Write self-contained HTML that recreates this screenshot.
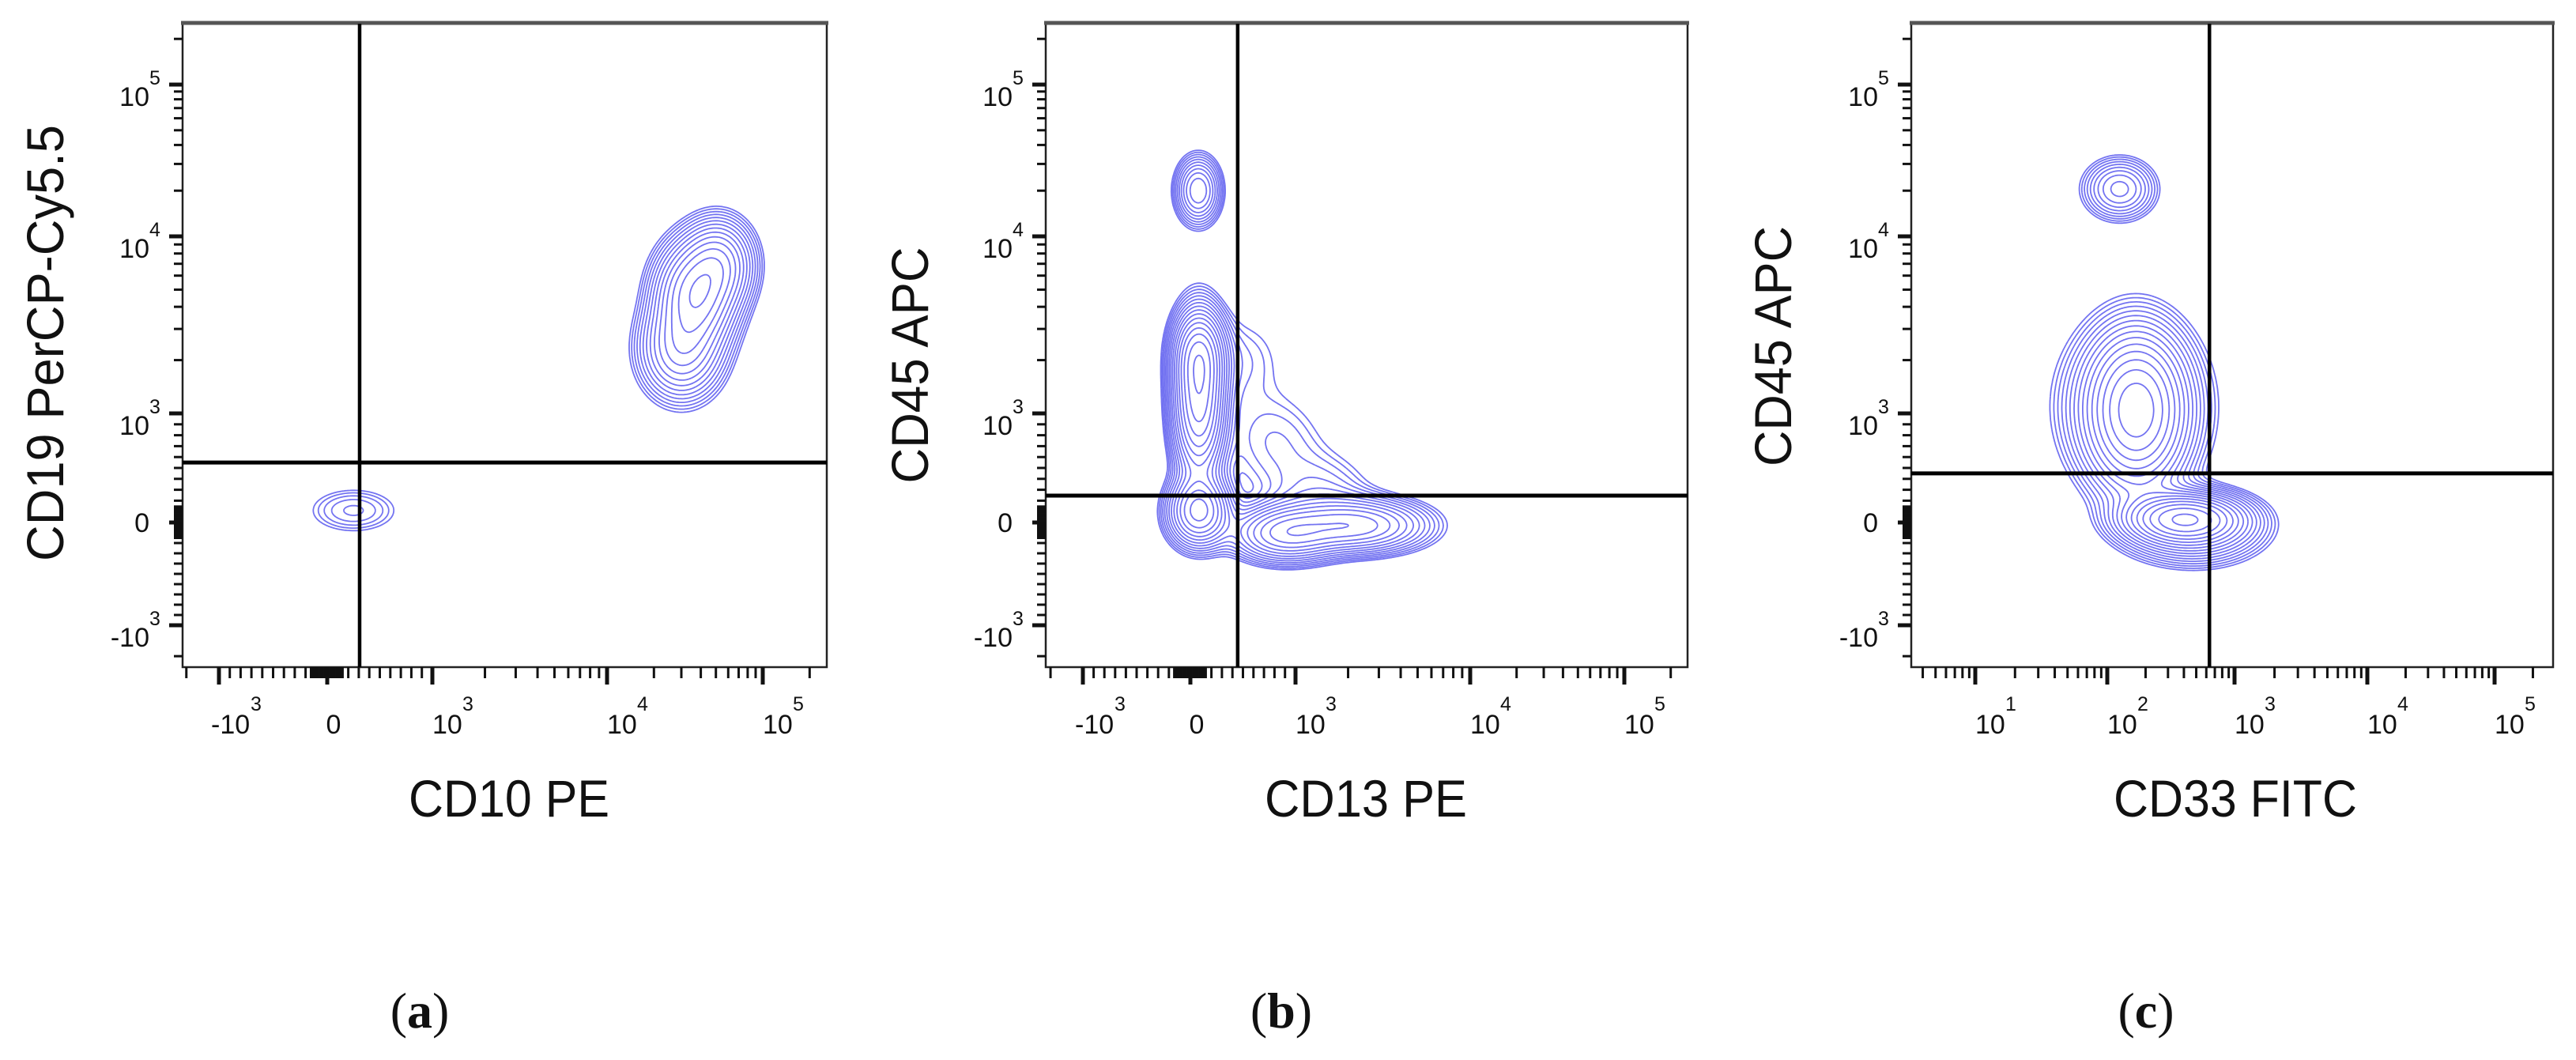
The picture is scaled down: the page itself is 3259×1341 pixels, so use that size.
<!DOCTYPE html>
<html><head><meta charset="utf-8"><style>
html,body{margin:0;padding:0;background:#fff}
svg{display:block}
text{font-family:"Liberation Sans",Arial,sans-serif;fill:#111}
</style></head><body>
<svg id="fig" xmlns="http://www.w3.org/2000/svg" width="3259" height="1341" viewBox="0 0 3259 1341">
<rect width="3259" height="1341" fill="#fff"/>
<g id="root"></g>
<text x="644" y="1033" font-size="66" text-anchor="middle" textLength="254" lengthAdjust="spacingAndGlyphs">CD10 PE</text>
<text x="1728" y="1033" font-size="66" text-anchor="middle" textLength="256" lengthAdjust="spacingAndGlyphs">CD13 PE</text>
<text x="2828" y="1033" font-size="66" text-anchor="middle" textLength="308" lengthAdjust="spacingAndGlyphs">CD33 FITC</text>
<text transform="translate(80,434) rotate(-90)" font-size="66" text-anchor="middle" textLength="552" lengthAdjust="spacingAndGlyphs">CD19 PerCP-Cy5.5</text>
<text transform="translate(1174,462) rotate(-90)" font-size="66" text-anchor="middle" textLength="299" lengthAdjust="spacingAndGlyphs">CD45 APC</text>
<text transform="translate(2266,438) rotate(-90)" font-size="66" text-anchor="middle" textLength="304" lengthAdjust="spacingAndGlyphs">CD45 APC</text>
<text x="531" y="1300" font-size="64" text-anchor="middle" style="font-family:'Liberation Serif',serif">(<tspan font-weight="bold">a</tspan>)</text>
<text x="1621" y="1300" font-size="64" text-anchor="middle" style="font-family:'Liberation Serif',serif">(<tspan font-weight="bold">b</tspan>)</text>
<text x="2715" y="1300" font-size="64" text-anchor="middle" style="font-family:'Liberation Serif',serif">(<tspan font-weight="bold">c</tspan>)</text>
</svg>
<script>
// ---- data (values in fluorescence units) ----
const yTickValues = [-1000, 0, 1000, 10000, 100000];
const yTickLabels = ["-10|3", "0", "10|3", "10|4", "10|5"];
const xTickValuesAB = [-1000, 0, 1000, 10000, 100000];
const xTickLabelsAB = ["-10|3", "0", "10|3", "10|4", "10|5"];
const xTickValuesC = [10, 100, 1000, 10000, 100000];
const xTickLabelsC = ["10|1", "10|2", "10|3", "10|4", "10|5"];

// panel a populations
const popA_x = [52000, 37000, 30000, 250];
const popA_y = [7000, 4600, 2300, 110];
const popA_w = [0.6, 1.0, 0.55, 0.11];
const popA_sx = [24, 27, 28, 34];
const popA_sy = [30, 36, 34, 17];
const gateA = [308, 550];

// panel b populations
const popB_x = [75, 80, 80, 80, 450, 800, 1400, 2240, 900];
const popB_y = [20000, 1200, 2200, 100, 2000, 750, 250, -30, -110];
const popB_w = [0.35, 1.0, 0.5, 0.6, 0.06, 0.07, 0.09, 0.5, 0.45];
const popB_sx = [16, 18, 18, 22, 40, 42, 42, 50, 38];
const popB_sy = [24, 55, 30, 25, 40, 40, 34, 19, 20];
const gateB = [450, 246];

// panel c populations
const popC_x = [125, 170, 160, 400, 480];
const popC_y = [20500, 1030, 1100, 36, -60];
const popC_w = [0.3, 1.0, 0.3, 1.1, 0.4];
const popC_sx = [26, 34, 52, 40, 48];
const popC_sy = [22, 55, 60, 17, 25];
const gateC = [635, 450];

// ---- axis calibration ----
function biexU(v){ const a=Math.abs(v); return a<=1000 ? v/1000 : Math.sign(v)*(1+Math.log10(a/1000)); }
function logU(v){ return Math.log10(Math.max(v,1e-3)); }
function makeScale(uf, vals, px){
  const us = vals.map(uf);
  return function(v){
    const u = uf(v);
    let k = 0;
    while (k < us.length-2 && u > us[k+1]) k++;
    return px[k] + (u-us[k])/(us[k+1]-us[k])*(px[k+1]-px[k]);
  };
}
const yScale = makeScale(biexU, yTickValues, [791, 661, 523, 299, 107]);
const panels = [
  {id:'a', box:[231,30,1046,844], xs: makeScale(biexU, xTickValuesAB, [277,414,547,768,965]), xt:xTickValuesAB, xl:xTickLabelsAB, xtype:'biex',
   px:popA_x, py:popA_y, pw:popA_w, psx:popA_sx, psy:popA_sy, gate:gateA, n:14},
  {id:'b', box:[1323,30,2135,844], xs: makeScale(biexU, xTickValuesAB, [1370,1506,1639,1860,2055]), xt:xTickValuesAB, xl:xTickLabelsAB, xtype:'biex',
   px:popB_x, py:popB_y, pw:popB_w, psx:popB_sx, psy:popB_sy, gate:gateB, n:16},
  {id:'c', box:[2418,30,3230,844], xs: makeScale(logU, xTickValuesC, [2499,2666,2827,2995,3156]), xt:xTickValuesC, xl:xTickLabelsC, xtype:'log',
   px:popC_x, py:popC_y, pw:popC_w, psx:popC_sx, psy:popC_sy, gate:gateC, n:16}
];
const NS = 'http://www.w3.org/2000/svg';
const root = document.getElementById('root');
function mk(tag, attrs, parent){ const e=document.createElementNS(NS,tag); for(const k in attrs) e.setAttribute(k, attrs[k]); (parent||root).appendChild(e); return e; }

function minorBiex(){
  const out=[];
  for(let v=-900; v<=900; v+=100) if(v!==0) out.push(v);
  for(let v=-150; v<=150; v+=8) out.push(v);
  for(const d of [1000,10000]) for(let m=2;m<=9;m++){ out.push(m*d); }
  out.push(200000); out.push(-2000);
  return out;
}
function minorLog(){
  const out=[];
  for(const d of [1,10,100,1000,10000,100000]) for(let m=2;m<=9;m++){ if(m*d>=3 && m*d<=250000) out.push(m*d); }
  return out;
}

function march(F, nx, ny, lv, ox, oy, st){
  let d='';
  const P=(x,y)=>(ox+x*st).toFixed(1)+' '+(oy+y*st).toFixed(1);
  for(let j=0;j<ny-1;j++) for(let i=0;i<nx-1;i++){
    const a=F[j*nx+i], b=F[j*nx+i+1], c=F[(j+1)*nx+i+1], e=F[(j+1)*nx+i];
    const idx=(a>lv?8:0)|(b>lv?4:0)|(c>lv?2:0)|(e>lv?1:0);
    if(idx===0||idx===15) continue;
    const T=()=>P(i+(lv-a)/(b-a), j), R=()=>P(i+1, j+(lv-b)/(c-b)),
          B=()=>P(i+(lv-e)/(c-e), j+1), L=()=>P(i, j+(lv-a)/(e-a));
    const s=(p,q)=>{ d+='M'+p+'L'+q; };
    switch(idx){
      case 1: case 14: s(L(),B()); break;
      case 2: case 13: s(B(),R()); break;
      case 3: case 12: s(L(),R()); break;
      case 4: case 11: s(T(),R()); break;
      case 6: case 9: s(T(),B()); break;
      case 7: case 8: s(L(),T()); break;
      case 5: s(L(),T()); s(B(),R()); break;
      case 10: s(T(),R()); s(L(),B()); break;
    }
  }
  return d;
}

panels.forEach(p=>{
  const [x0,y0,x1,y1]=p.box;
  const g = mk('g',{});
  
  
  const st=2, nx=Math.floor((x1-x0)/st)+1, ny=Math.floor((y1-y0)/st)+1;
  const F=new Float32Array(nx*ny);
  const cs=p.px.map((v,k)=>[p.xs(v), yScale(p.py[k]), p.pw[k], p.psx[k], p.psy[k]]);
  let mx=0;
  for(let j=0;j<ny;j++) for(let i=0;i<nx;i++){
    const X=x0+i*st, Y=y0+j*st; let s=0;
    for(const c of cs){ const dx=(X-c[0])/c[3], dy=(Y-c[1])/c[4]; const q=dx*dx+dy*dy; if(q<40) s+=c[2]*Math.exp(-0.5*q); }
    F[j*nx+i]=s; if(s>mx) mx=s;
  }
  const cg = mk('g',{fill:'none', stroke:'#5a5aee', 'stroke-width':'1.8', 'stroke-opacity':'0.85'}, g);
  
  
  const lo=0.03, hi=0.93;
  for(let k=0;k<p.n;k++){
    const lv = mx*lo*Math.pow(hi/lo, k/(p.n-1));
    const path = mk('path',{d:march(F,nx,ny,lv,x0,y0,st)}, cg);
    
    
  }
  const box = mk('rect',{x:x0,y:y0,width:x1-x0,height:y1-y0,fill:'none',stroke:'#222','stroke-width':'2.5'}, g);
  
  
  const topl = mk('line',{x1:x0-2,x2:x1+2,y1:y0-1,y2:y0-1,stroke:'#555','stroke-width':'5'}, g);
  
  
  const gx=p.xs(p.gate[0]), gy=yScale(p.gate[1]);
  const gv = mk('line',{x1:gx,x2:gx,y1:y0,y2:y1,stroke:'#000','stroke-width':'4.5'}, g);
  
  
  const gh = mk('line',{x1:x0,x2:x1,y1:gy,y2:gy,stroke:'#000','stroke-width':'5'}, g);
  
  
  const yt = mk('g',{stroke:'#111'}, g);
  
  
  yTickValues.forEach(v=>{ const y=yScale(v); mk('line',{x1:x0-17,x2:x0,y1:y,y2:y,'stroke-width':'5'}, yt); });
  minorBiex().forEach(v=>{ const y=yScale(v); if(y>y0+4&&y<y1) mk('line',{x1:x0-11,x2:x0,y1:y,y2:y,'stroke-width':'3'}, yt); });
  yTickValues.forEach((v,k)=>{
    const y=yScale(v), parts=yTickLabels[k].split('|');
    const t = mk('text',{x:x0-42,y:parts.length>1?y+27:y+12,'font-size':'34','text-anchor':'end'}, g);
    
    
    t.textContent = parts[0];
    if(parts.length>1){
      const s = mk('text',{x:x0-42,y:y,'font-size':'25','text-anchor':'start'}, g);
      
      
      s.textContent = parts[1];
    }
  });
  const xt = mk('g',{stroke:'#111'}, g);
  
  
  p.xt.forEach(v=>{ const x=p.xs(v); mk('line',{x1:x,x2:x,y1:y1,y2:y1+22,'stroke-width':'5'}, xt); });
  (p.xtype==='log'?minorLog():minorBiex()).forEach(v=>{ const x=p.xs(v); if(x>x0&&x<x1-3) mk('line',{x1:x,x2:x,y1:y1,y2:y1+14,'stroke-width':'3'}, xt); });
  p.xt.forEach((v,k)=>{
    const x=p.xs(v), parts=p.xl[k].split('|');
    const neg = parts[0].startsWith('-');
    const t = mk('text',{x:parts.length>1?(neg?x-10:x):x+8,y:928,'font-size':'34','text-anchor':parts.length>1?'start':'middle'}, g);
    
    
    t.textContent = parts[0];
    if(parts.length>1){
      const s = mk('text',{x:(neg?x+40:x+38),y:899,'font-size':'25'}, g);
      
      
      s.textContent = parts[1];
    }
  });
});
</script>
</body></html>
